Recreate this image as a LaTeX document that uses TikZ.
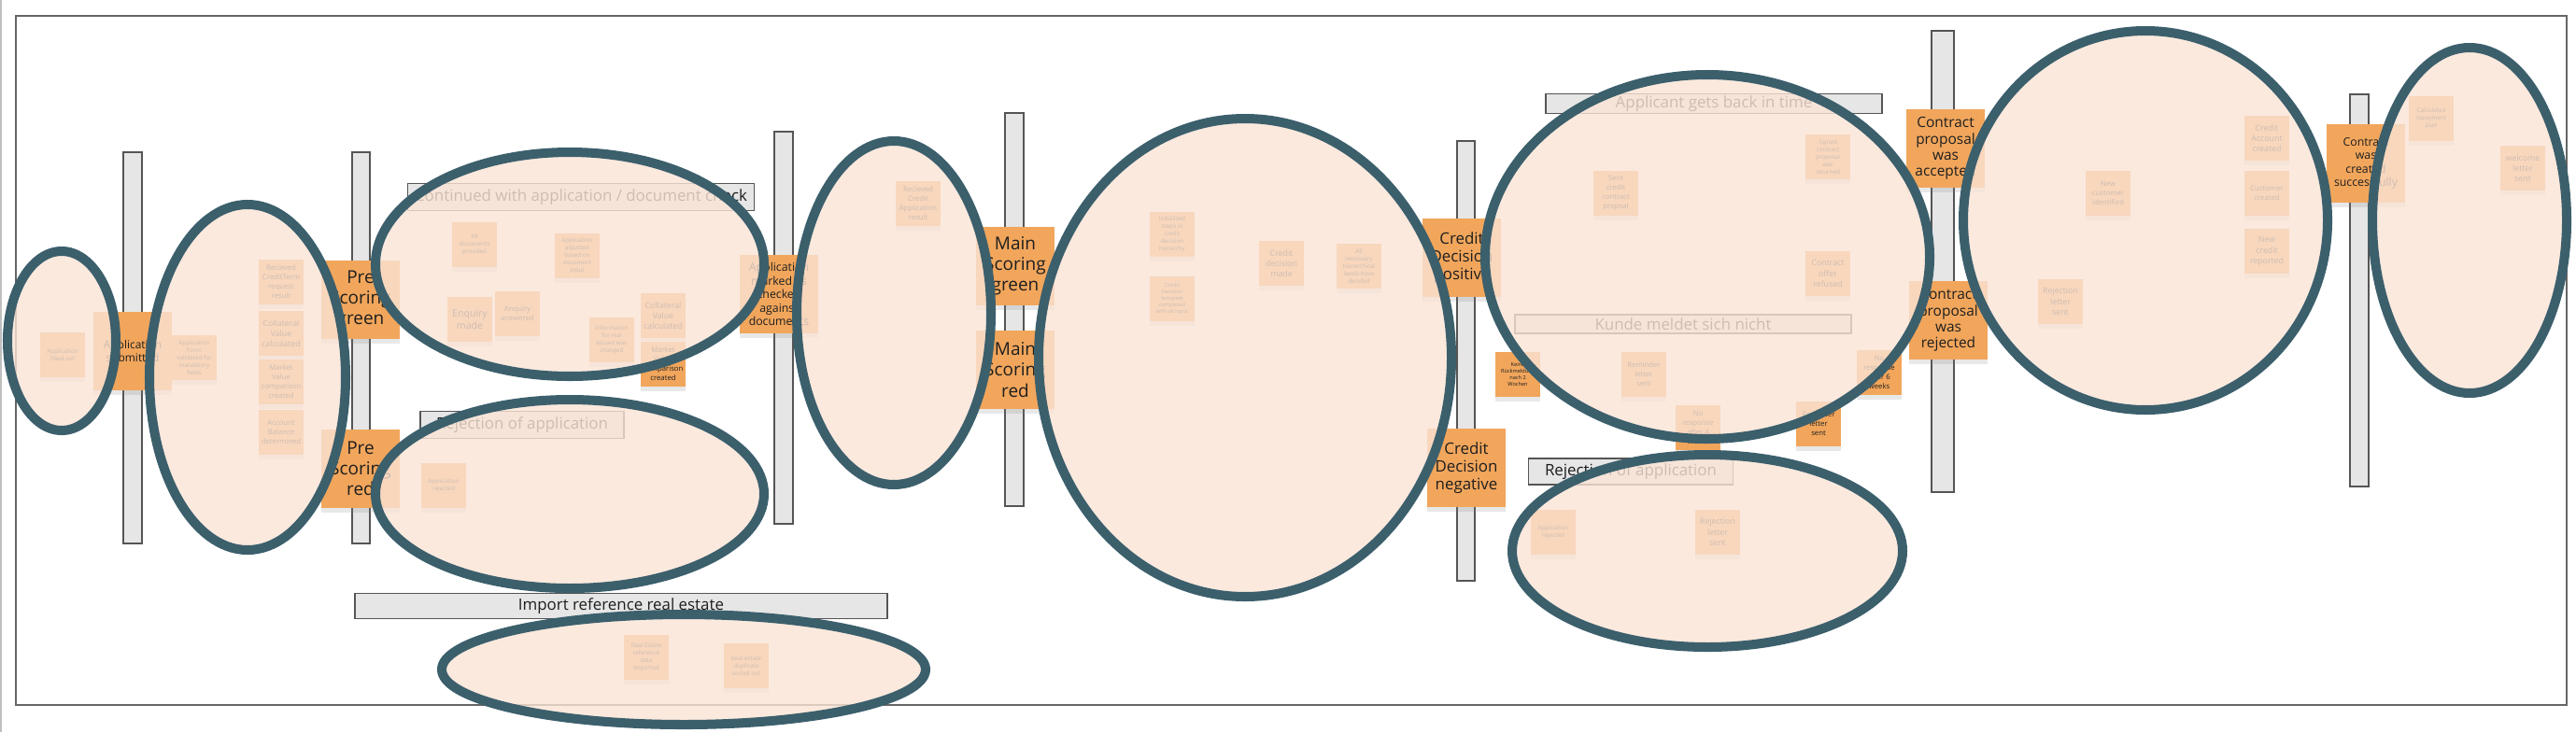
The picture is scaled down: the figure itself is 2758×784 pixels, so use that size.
\documentclass[tikz,border=0pt]{standalone}
\usepackage{fontspec}
\setmainfont{Open Sans}
\usetikzlibrary{shadows}
\definecolor{my_orange}{HTML}{F1A65C}
\definecolor{my_teal}{HTML}{3C5F6C}
\definecolor{my_peach}{HTML}{FAE4D6}
\definecolor{my_lightgray}{HTML}{E6E6E6}
\definecolor{my_darkgray}{HTML}{555555}
\definecolor{my_ink}{HTML}{1E1E1E}

\begin{document}
\begin{tikzpicture}[
    x=0.01cm, y=-0.01cm,
    event/.style={fill=my_orange, inner sep=0pt, align=center, text=my_ink,
        minimum width=0.48cm, minimum height=0.48cm,
        drop shadow={shadow xshift=0pt, shadow yshift=-1.3pt, opacity=0.18}},
    bigevent/.style={event, minimum width=0.84cm, minimum height=0.84cm},
    tinytxt/.style={font=\fontsize{1.8}{2.25}\selectfont},
    smalltxt/.style={font=\fontsize{2.2}{2.85}\selectfont},
    midtxt/.style={font=\fontsize{2.5}{3.2}\selectfont},
    banner/.style={draw=my_darkgray, fill=my_lightgray, line width=0.45pt,
        inner sep=0pt, text=my_ink, font=\fontsize{4.8}{5.6}\selectfont},
    timeline/.style={draw=my_darkgray, fill=my_lightgray, line width=0.45pt},
    phase/.style={draw=my_teal, line width=2.85pt, fill=my_peach, fill opacity=0.8}
]
\useasboundingbox (0,0) rectangle (2758,784);

% ---- Board frame ----
\draw[black!25, line width=0.5pt] (1,0) -- (1,784);
\draw[my_darkgray!90, line width=0.75pt] (17,17) rectangle (2748,755);

% ---- Pivotal event bars ----
\draw[timeline] (132,163)  rectangle (152,582);
\draw[timeline] (377,163)  rectangle (396,582);
\draw[timeline] (829,141)  rectangle (849,561);
\draw[timeline] (1076,121) rectangle (1096,542);
\draw[timeline] (1560,151) rectangle (1579,622);
\draw[timeline] (2068,33)  rectangle (2092,527);
\draw[timeline] (2516,101) rectangle (2536,521);

% ---- Swimlane banners ----
\node[banner, minimum width=3.71cm, minimum height=0.29cm] (laneContinue) at (622,211)
    {Continued with application / document check};
\node[banner, minimum width=2.18cm, minimum height=0.29cm] (laneRejectA) at (559,455)
    {Rejection of application};
\node[banner, minimum width=5.70cm, minimum height=0.27cm] (laneImport) at (665,649)
    {Import reference real estate};
\node[banner, minimum width=3.60cm, minimum height=0.21cm] (laneBack) at (1835,111)
    {Applicant gets back in time};
\node[banner, minimum width=3.60cm, minimum height=0.20cm] (laneSilent) at (1802,347)
    {Kunde meldet sich nicht};
\node[banner, minimum width=2.19cm, minimum height=0.28cm] (laneRejectB) at (1746,505)
    {Rejection of application};

% ---- Pivotal events (large stickies) ----
\node[bigevent, font=\fontsize{3.4}{3.9}\selectfont] (evSubmitted) at (142,376) {Application\\submitted};
\node[bigevent, font=\fontsize{5.4}{6.3}\selectfont] (evPreGreen) at (386,321) {Pre\\Scoring\\green};
\node[bigevent, font=\fontsize{5.4}{6.3}\selectfont] (evPreRed)   at (386,502) {Pre\\Scoring\\red};
\node[bigevent, font=\fontsize{3.5}{4.1}\selectfont] (evMarked) at (834,315)
    {Application\\marked as\\checked\\against\\documents};
\node[bigevent, font=\fontsize{5.4}{6.3}\selectfont] (evMainGreen) at (1087,285) {Main\\Scoring\\green};
\node[bigevent, font=\fontsize{5.4}{6.3}\selectfont] (evMainRed)   at (1087,396) {Main\\Scoring\\red};
\node[bigevent, font=\fontsize{4.8}{5.4}\selectfont] (evDecPos) at (1565,276) {Credit\\Decision\\positive};
\node[bigevent, font=\fontsize{4.8}{5.4}\selectfont] (evDecNeg) at (1570,501) {Credit\\Decision\\negative};
\node[bigevent, font=\fontsize{4.4}{4.95}\selectfont] (evAccepted) at (2083,159) {Contract\\proposal\\was\\accepted};
\node[bigevent, font=\fontsize{4.4}{4.95}\selectfont] (evRejected) at (2086,343) {Contract\\proposal\\was\\rejected};
\node[bigevent, font=\fontsize{3.5}{4.1}\selectfont] (evSuccess) at (2533,175) {Contract\\was\\created\\successfully};

% ---- Domain events (small stickies) ----
\node[event, tinytxt]  (evFilled)    at (67,380)   {Application\\filled out};
\node[event, tinytxt]  (evFormValid) at (208,383)  {Application\\Form\\validated for\\mandatory\\fields};
\node[event, smalltxt] (evTermRes)   at (301,302)  {Recieved\\CreditTerm\\request\\result};
\node[event, midtxt]   (evCollatA)   at (301,357)  {Collateral\\Value\\calculated};
\node[event, smalltxt] (evMarketA)   at (301,409)  {Market\\Value\\comparison\\created};
\node[event, smalltxt] (evBalance)   at (301,463)  {Account\\Balance\\determined};

\node[event, tinytxt]  (evAllDocs)   at (508,262)  {All\\documents\\provided};
\node[event, tinytxt]  (evAdjusted)  at (618,274)  {Application\\adjusted\\based on\\document\\input};
\node[event, font=\fontsize{3.0}{3.6}\selectfont] (evEnquiry) at (503,342) {Enquiry\\made};
\node[event, smalltxt] (evAnswered)  at (554,336)  {Anquiry\\answered};
\node[event, tinytxt]  (evInfoEstate) at (655,364) {Information\\for real\\estaed was\\changed};
\node[event, midtxt]   (evCollatB)   at (710,338)  {Collateral\\Value\\calculated};
\node[event, smalltxt] (evMarketB)   at (710,390)  {Market\\Value\\comparison\\created};
\node[event, tinytxt]  (evRejAppA)   at (475,520)  {Application\\rejected};
\node[event, tinytxt]  (evRefImport) at (692,704)  {Real Estate\\reference\\data\\imported};
\node[event, tinytxt]  (evDuplicate) at (799,713)  {Real estate\\duplicate\\sorted out};

\node[event, smalltxt] (evAppResult) at (983,218)  {Recieved\\Credit\\Application\\result};
\node[event, tinytxt]  (evInitSteps) at (1255,251) {Initialized\\steps in\\credit\\decision\\hierarchy};
\node[event, font=\fontsize{1.6}{1.95}\selectfont] (evTemplate) at (1255,320)
    {Credit\\Decision\\template\\completed\\with all input};
\node[event, midtxt]   (evDecMade)   at (1372,282) {Credit\\decision\\made};
\node[event, tinytxt]  (evLevels)    at (1455,285) {All\\necessary\\hierarchical\\levels have\\decided};

\node[event, smalltxt] (evSentProp)  at (1730,207) {Sent\\credit\\contract\\propsal};
\node[event, tinytxt]  (evSigned)    at (1957,168) {Signed\\contract\\proposal\\was\\returned};
\node[event, midtxt]   (evRefused)   at (1957,293) {Contract\\offer\\refused};
\node[event, font=\fontsize{1.6}{1.95}\selectfont] (evNoReply) at (1625,401) {Keine\\Rückmeldung\\nach 2\\Wochen};
\node[event, smalltxt] (evRemindA)   at (1760,401) {Reminder\\letter\\sent};
\node[event, smalltxt] (evNoResp4)   at (1818,458) {No\\response\\after 4\\weeks};
\node[event, smalltxt] (evRemindB)   at (1947,454) {Reminder\\letter\\sent};
\node[event, smalltxt] (evNoResp6)   at (2012,399) {No\\response\\after 6\\weeks};
\node[event, tinytxt]  (evRejAppB)   at (1663,570) {Application\\rejected};
\node[event, midtxt]   (evRejLetterA) at (1839,570) {Rejection\\letter\\sent};

\node[event, smalltxt] (evNewCust)   at (2257,207) {New\\customer\\identified};
\node[event, midtxt]   (evRejLetterB) at (2206,323) {Rejection\\letter\\sent};
\node[event, midtxt]   (evAccount)   at (2427,148) {Credit\\Account\\created};
\node[event, smalltxt] (evCustomer)  at (2427,207) {Customer\\created};
\node[event, midtxt]   (evNewCredit) at (2427,269) {New\\credit\\reported};
\node[event, tinytxt]  (evRepayment) at (2603,127) {Calculated\\repayment\\plan};
\node[event, midtxt]   (evWelcome)   at (2701,180) {welcome\\letter\\sent};

% ---- Phase ellipses (drawn last, over the stickies) ----
\draw[phase] (66,365)   ellipse [x radius=58,  y radius=96];
\draw[phase] (265,404)  ellipse [x radius=105, y radius=185];
\draw[phase] (610,283)  ellipse [x radius=208, y radius=120];
\draw[phase] (610,529)  ellipse [x radius=208, y radius=101];
\draw[phase] (732,717)  ellipse [x radius=259, y radius=59];
\draw[phase] (957,335)  ellipse [x radius=104, y radius=184];
\draw[phase] (1333,383) ellipse [x radius=221, y radius=256];
\draw[phase] (1828,275) ellipse [x radius=238, y radius=195];
\draw[phase] (1828,590) ellipse [x radius=209, y radius=103];
\draw[phase] (2297,236) ellipse [x radius=195, y radius=203];
\draw[phase] (2644,236) ellipse [x radius=104, y radius=185];

\end{tikzpicture}
\end{document}
